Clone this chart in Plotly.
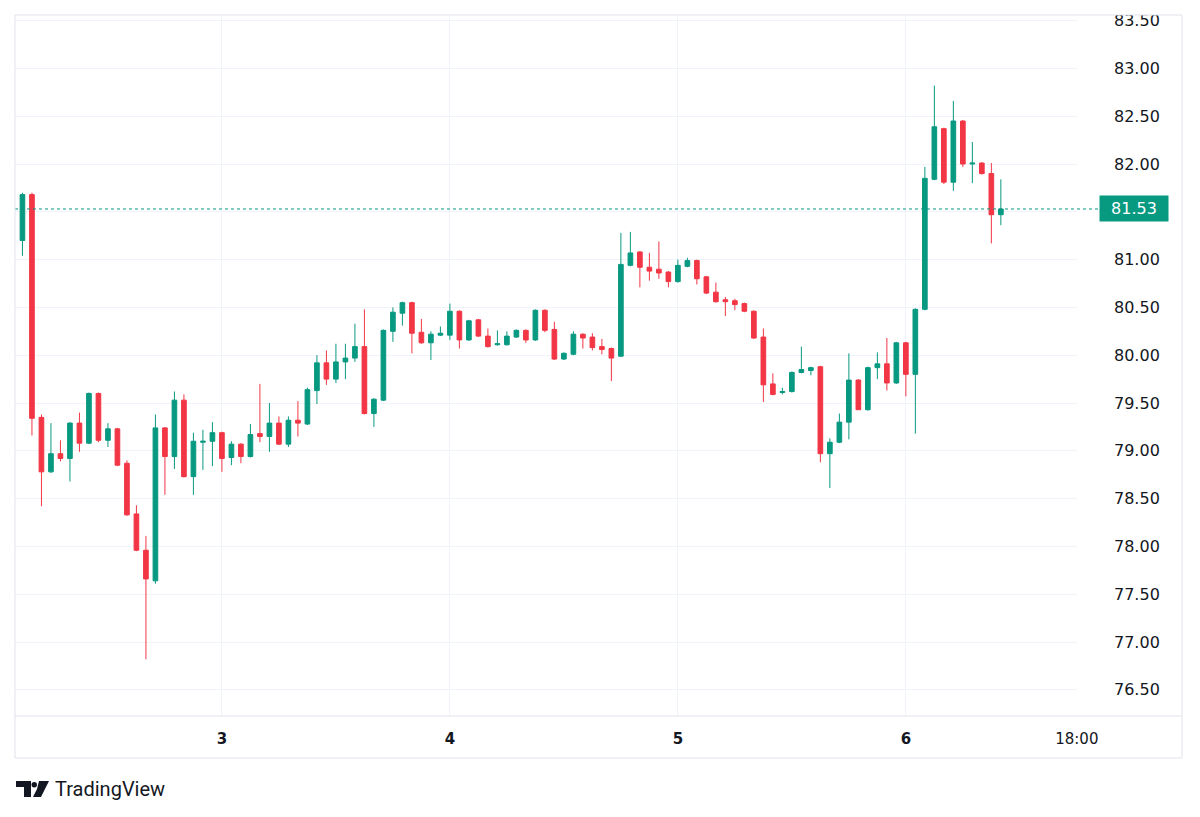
import pandas as pd
import plotly.graph_objects as go

# ---------------- data (hourly candles) ----------------
start_time = "2025-03-02 03:00"
opens = [81.20, 81.68, 79.35, 78.78, 78.97, 78.92, 79.29, 79.08, 79.60, 79.11,
         79.23, 78.87, 78.34, 77.96, 77.64, 79.24, 78.94, 79.53, 78.73, 79.09,
         79.10, 79.19, 78.93, 79.07, 78.94, 79.18, 79.15, 79.29, 79.07, 79.32,
         79.28, 79.63, 79.92, 79.75, 79.93, 79.97, 80.09, 79.39, 79.53, 80.25,
         80.44, 80.55, 80.24, 80.13, 80.21, 80.21, 80.46, 80.16, 80.37, 80.20,
         80.11, 80.11, 80.19, 80.26, 80.16, 80.47, 80.27, 79.96, 80.01, 80.22,
         80.19, 80.09, 80.07, 79.99, 80.94, 81.08, 80.92, 80.90, 80.87, 80.77,
         80.93, 80.99, 80.82, 80.66, 80.58, 80.57, 80.54, 80.46, 80.19, 79.70,
         79.61, 79.62, 79.82, 79.84, 79.88, 78.97, 79.09, 79.30, 79.74, 79.43,
         79.87, 79.91, 79.71, 80.13, 79.80, 80.48, 81.84, 82.37, 81.81, 82.45,
         82.00, 82.01, 81.90, 81.47]
highs = [81.70, 81.70, 79.38, 79.29, 79.11, 79.30, 79.40, 79.61, 79.61, 79.29,
         79.24, 78.90, 78.43, 78.11, 79.38, 79.25, 79.62, 79.59, 79.19, 79.22,
         79.30, 79.20, 79.10, 79.08, 79.28, 79.70, 79.50, 79.36, 79.36, 79.52,
         79.66, 80.00, 80.05, 80.12, 80.12, 80.33, 80.48, 79.55, 80.27, 80.50,
         80.56, 80.56, 80.38, 80.25, 80.30, 80.54, 80.47, 80.37, 80.38, 80.28,
         80.26, 80.25, 80.27, 80.27, 80.48, 80.48, 80.35, 80.03, 80.25, 80.23,
         80.23, 80.17, 80.08, 81.28, 81.29, 81.09, 81.07, 81.19, 80.88, 81.00,
         81.02, 81.00, 80.83, 80.76, 80.61, 80.59, 80.55, 80.47, 80.28, 79.81,
         79.66, 79.83, 80.09, 79.88, 79.89, 79.13, 79.39, 80.02, 79.75, 79.88,
         80.03, 80.18, 80.14, 80.14, 80.49, 81.97, 82.82, 82.38, 82.66, 82.46,
         82.23, 82.02, 82.01, 81.84]
lows = [81.04, 79.16, 78.42, 78.77, 78.89, 78.68, 78.99, 79.07, 79.09, 79.04,
        78.84, 78.32, 77.95, 76.82, 77.61, 78.54, 78.81, 78.72, 78.54, 78.80,
        78.84, 78.78, 78.85, 78.87, 78.93, 79.09, 78.99, 79.06, 79.04, 79.15,
        79.27, 79.49, 79.69, 79.71, 79.75, 79.93, 79.38, 79.25, 79.52, 80.14,
        80.31, 80.02, 80.12, 79.95, 80.20, 80.16, 80.07, 80.15, 80.19, 80.08,
        80.10, 80.10, 80.18, 80.13, 80.15, 80.24, 79.95, 79.95, 80.00, 80.07,
        80.05, 80.01, 79.73, 79.98, 80.93, 80.71, 80.78, 80.80, 80.71, 80.76,
        80.92, 80.74, 80.64, 80.55, 80.41, 80.47, 80.45, 80.17, 79.51, 79.58,
        79.59, 79.61, 79.81, 79.79, 78.88, 78.61, 79.08, 79.12, 79.43, 79.42,
        79.75, 79.63, 79.70, 79.57, 79.18, 80.47, 81.83, 81.79, 81.72, 81.97,
        81.80, 81.89, 81.17, 81.36]
closes = [81.68, 79.34, 78.78, 78.97, 78.92, 79.29, 79.08, 79.60, 79.11, 79.23,
          78.85, 78.33, 77.96, 77.66, 79.24, 78.94, 79.53, 78.73, 79.10, 79.10,
          79.19, 78.92, 79.07, 78.94, 79.17, 79.15, 79.29, 79.07, 79.32, 79.29,
          79.64, 79.92, 79.75, 79.93, 79.97, 80.09, 79.39, 79.54, 80.26, 80.45,
          80.55, 80.23, 80.13, 80.22, 80.23, 80.46, 80.16, 80.36, 80.20, 80.09,
          80.12, 80.20, 80.26, 80.16, 80.47, 80.26, 79.96, 80.02, 80.22, 80.18,
          80.08, 80.06, 79.97, 80.95, 81.07, 80.92, 80.88, 80.86, 80.77, 80.94,
          80.99, 80.80, 80.65, 80.56, 80.56, 80.53, 80.46, 80.18, 79.69, 79.59,
          79.62, 79.82, 79.85, 79.87, 78.97, 79.09, 79.30, 79.74, 79.43, 79.87,
          79.91, 79.71, 80.13, 79.80, 80.48, 81.85, 82.39, 81.81, 82.45, 82.00,
          82.01, 81.90, 81.47, 81.53]

last_price = 81.53
price_ticks = [76.5, 77.0, 77.5, 78.0, 78.5, 79.0, 79.5, 80.0, 80.5, 81.0,
               81.5, 82.0, 82.5, 83.0, 83.5]
hidden_price_ticks = [81.5]  # covered by the last-price label in the reference
time_tick_vals = ["2025-03-03 00:00", "2025-03-04 00:00", "2025-03-05 00:00",
                  "2025-03-06 00:00", "2025-03-06 18:00"]
time_tick_text = ["<b>3</b>", "<b>4</b>", "<b>5</b>", "<b>6</b>", "18:00"]

# ---------------- styling ----------------
GREEN = "#089981"
RED = "#F23645"
BORDER = "#e0e3eb"
GRID = "#f0f3fa"
TEXT = "#131722"
TICK_FONT = "DejaVu Sans"
LOGO_FONT = "Roboto"

W, H = 1200, 817
PL, PR, PT, PB = 15, 1077, 15, 716  # plot area in pixels

times = pd.date_range(start_time, periods=len(opens), freq="h")

x_start = times[0] - pd.Timedelta(minutes=47)
x_end = pd.Timestamp(time_tick_vals[-1]) + pd.Timedelta(minutes=1)

y_lo, y_hi = 76.226, 83.559


def px(xp):
    return (xp - PL) / (PR - PL)


def py(yp):
    return (PB - yp) / (PB - PT)


fig = go.Figure()
fig.add_trace(go.Candlestick(
    x=times, open=opens, high=highs, low=lows, close=closes,
    increasing=dict(line=dict(color=GREEN, width=1), fillcolor=GREEN),
    decreasing=dict(line=dict(color=RED, width=1), fillcolor=RED),
    whiskerwidth=0, hoverinfo="skip", showlegend=False,
))

shapes = []
# last price dotted line
shapes.append(dict(type="line", xref="paper", yref="y", x0=0, x1=px(1100),
                   y0=last_price, y1=last_price,
                   line=dict(color=GREEN, width=1, dash="dot"), layer="above"))
# clip strip above plot
shapes.append(dict(type="rect", xref="paper", yref="paper", x0=px(0), x1=px(1200),
                   y0=py(15), y1=py(0), fillcolor="white", line=dict(width=0),
                   layer="above"))
# frame
for (x0, y0, x1, y1) in [(15, 15, 1182, 15), (15, 716, 1182, 716), (15, 758, 1182, 758),
                         (15, 15, 15, 758), (1182, 15, 1182, 758)]:
    shapes.append(dict(type="line", xref="paper", yref="paper",
                       x0=px(x0), x1=px(x1), y0=py(y0), y1=py(y1),
                       line=dict(color=BORDER, width=1), layer="above"))


def path(points):
    return "M " + " L ".join(f"{px(a):.5f},{py(b):.5f}" for a, b in points) + " Z"


# TradingView logo mark (approximation)
shapes.append(dict(type="path", xref="paper", yref="paper",
                   path=path([(16, 781), (31, 781), (31, 797), (24, 797), (24, 787), (16, 787)]),
                   fillcolor=TEXT, line=dict(width=0)))
shapes.append(dict(type="circle", xref="paper", yref="paper",
                   x0=px(31.5), x1=px(37), y0=py(787.5), y1=py(782),
                   fillcolor=TEXT, line=dict(width=0)))
shapes.append(dict(type="path", xref="paper", yref="paper",
                   path=path([(39, 781), (49, 781), (41, 797), (33, 797), (37, 789)]),
                   fillcolor=TEXT, line=dict(width=0)))

annotations = [
    dict(x=px(1134), y=last_price, xref="paper", yref="y", text=f"{last_price:.2f}",
         showarrow=False, bgcolor=GREEN, font=dict(color="white", size=16, family=TICK_FONT),
         width=64, height=21, borderpad=2, xanchor="center", yanchor="middle"),
    dict(x=px(53), y=py(789), xref="paper", yref="paper", text="TradingView",
         showarrow=False, font=dict(color=TEXT, size=20, family=LOGO_FONT),
         xanchor="left", yanchor="middle"),
]

fig.update_layout(
    width=W, height=H,
    margin=dict(l=PL, r=W - PR, t=PT, b=H - PB),
    paper_bgcolor="white", plot_bgcolor="white",
    font=dict(family=TICK_FONT, color=TEXT, size=16),
    showlegend=False,
    shapes=shapes, annotations=annotations,
    xaxis=dict(
        type="date", range=[x_start, x_end], rangeslider=dict(visible=False),
        tickvals=time_tick_vals, ticktext=time_tick_text,
        showgrid=True, gridcolor=GRID, gridwidth=1,
        zeroline=False, showline=False, ticks="",
        tickfont=dict(size=15, color=TEXT, family=TICK_FONT),
        ticklabelstandoff=12,
    ),
    yaxis=dict(
        side="right", range=[y_lo, y_hi],
        tickvals=price_ticks,
        ticktext=["" if v in hidden_price_ticks else f"{v:.2f}" for v in price_ticks],
        showgrid=True, gridcolor=GRID, gridwidth=1,
        zeroline=False, showline=False, ticks="",
        tickfont=dict(size=16, color=TEXT, family=TICK_FONT),
        ticklabelstandoff=36,
    ),
)

fig.write_html("out.html")
